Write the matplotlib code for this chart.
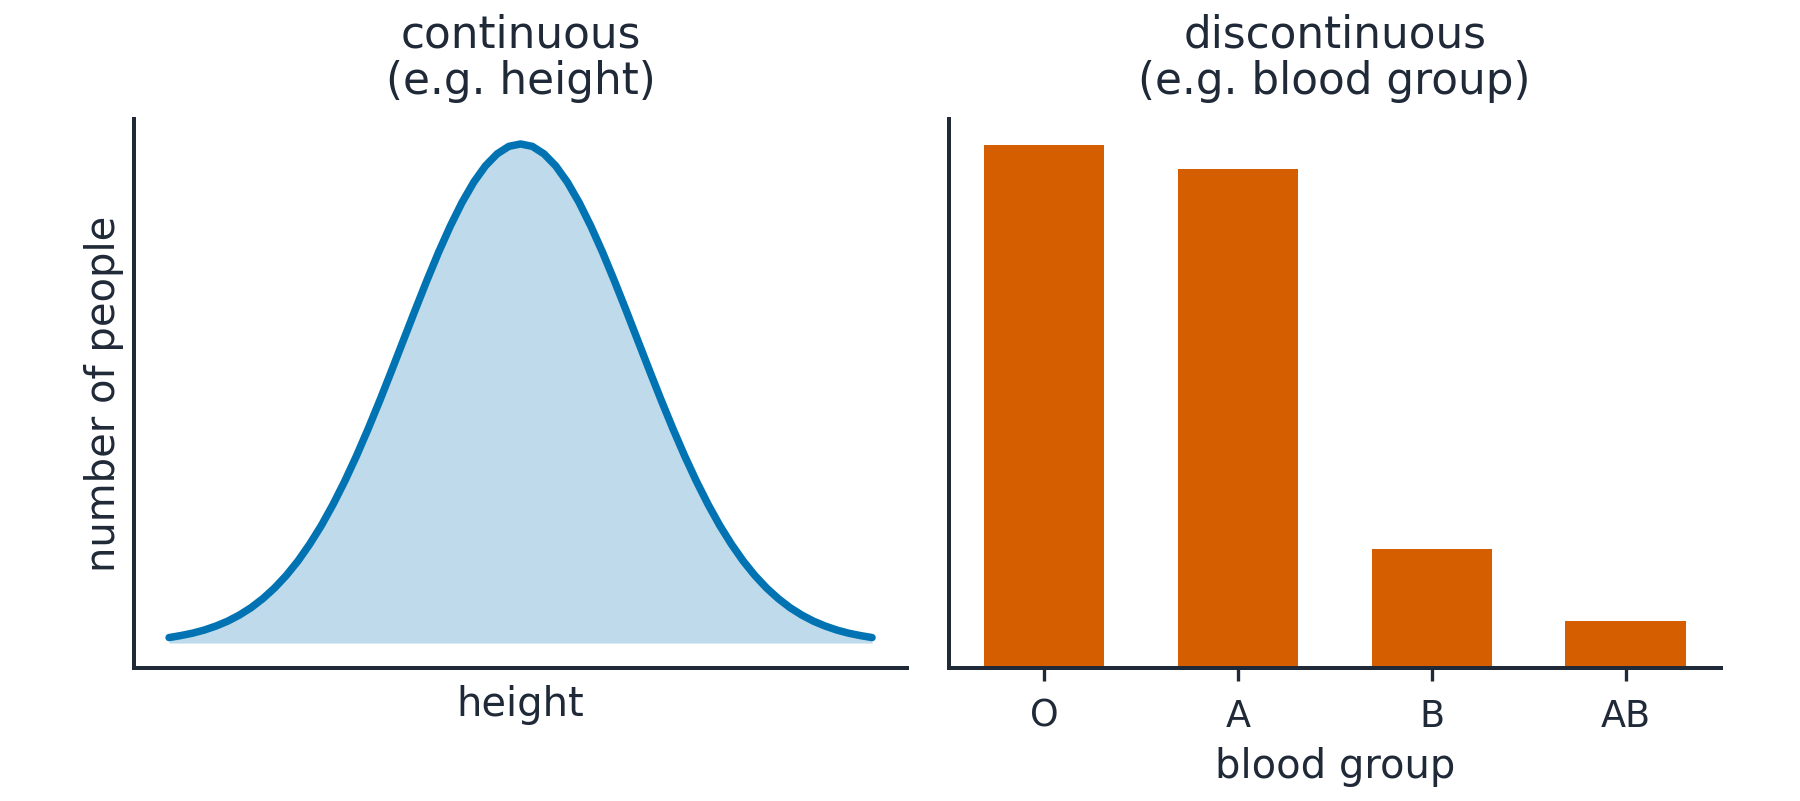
import matplotlib
matplotlib.use("Agg")
import matplotlib.pyplot as plt

# height curve (x in sd units, y = relative density)
height_x = [-3.0, -2.9, -2.8, -2.7, -2.6, -2.5, -2.4, -2.3, -2.2, -2.1,
            -2.0, -1.9, -1.8, -1.7, -1.6, -1.5, -1.4, -1.3, -1.2, -1.1,
            -1.0, -0.9, -0.8, -0.7, -0.6, -0.5, -0.4, -0.3, -0.2, -0.1,
            0.0, 0.1, 0.2, 0.3, 0.4, 0.5, 0.6, 0.7, 0.8, 0.9,
            1.0, 1.1, 1.2, 1.3, 1.4, 1.5, 1.6, 1.7, 1.8, 1.9,
            2.0, 2.1, 2.2, 2.3, 2.4, 2.5, 2.6, 2.7, 2.8, 2.9, 3.0]
height_y = [0.0044, 0.0060, 0.0079, 0.0104, 0.0136, 0.0175, 0.0224, 0.0283, 0.0355, 0.0440,
            0.0540, 0.0656, 0.0790, 0.0940, 0.1109, 0.1295, 0.1497, 0.1714, 0.1942, 0.2179,
            0.2420, 0.2661, 0.2897, 0.3123, 0.3332, 0.3521, 0.3683, 0.3814, 0.3910, 0.3970,
            0.3989, 0.3970, 0.3910, 0.3814, 0.3683, 0.3521, 0.3332, 0.3123, 0.2897, 0.2661,
            0.2420, 0.2179, 0.1942, 0.1714, 0.1497, 0.1295, 0.1109, 0.0940, 0.0790, 0.0656,
            0.0540, 0.0440, 0.0355, 0.0283, 0.0224, 0.0175, 0.0136, 0.0104, 0.0079, 0.0060, 0.0044]

# blood groups (percent)
groups = ["O", "A", "B", "AB"]
group_pct = [44, 42, 10, 4]

txt = "#1f2937"
blue = "#0173B2"
orange = "#D55E00"

plt.rcParams['font.family'] = ['DejaVu Sans']
plt.rcParams['text.color'] = txt
plt.rcParams['axes.labelcolor'] = txt
plt.rcParams['xtick.color'] = txt
plt.rcParams['ytick.color'] = txt

fig = plt.figure(figsize=(6, 2.67), dpi=300)
ax1 = fig.add_axes([0.0744, 0.166, 0.4296, 0.6854])
ax2 = fig.add_axes([0.527, 0.166, 0.429, 0.6854])

ax1.fill_between(height_x, height_y, 0, color=blue, alpha=0.25, linewidth=0)
ax1.plot(height_x, height_y, color=blue, lw=1.8, solid_capstyle='round',
         solid_joinstyle='round')
ax1.set_xticks([])
ax1.set_yticks([])
ax1.set_xlabel("height", fontsize=9.6, labelpad=4)
ax1.set_ylabel("number of people", fontsize=9.6, labelpad=2.5)
ax1.set_title("continuous\n(e.g. height)", fontsize=10.5, pad=6, linespacing=1.1)

ax2.bar(groups, group_pct, width=0.62, color=orange)
ax2.set_yticks([])
ax2.tick_params(axis='x', length=3.1, width=0.8, labelsize=8.8, pad=4)
ax2.set_xlabel("blood group", fontsize=9.6, labelpad=3)
ax2.set_title("discontinuous\n(e.g. blood group)", fontsize=10.5, pad=6, linespacing=1.1)

for ax in (ax1, ax2):
    for s in ("top", "right"):
        ax.spines[s].set_visible(False)
    for s in ("left", "bottom"):
        ax.spines[s].set_color(txt)
        ax.spines[s].set_linewidth(0.96)

fig.savefig("out.png", dpi=300)
